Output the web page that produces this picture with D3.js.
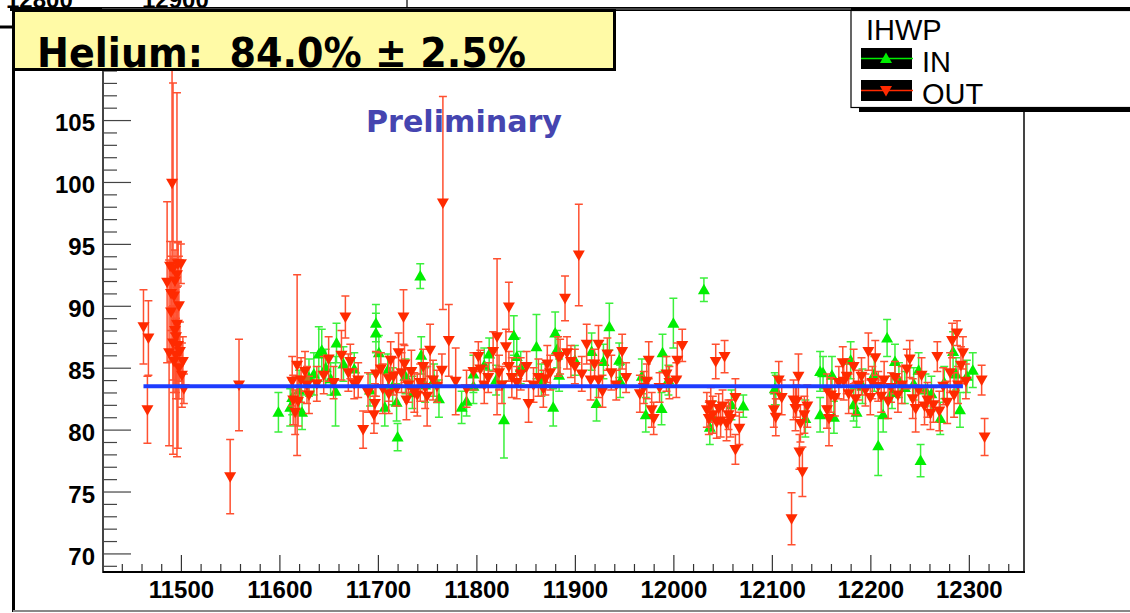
<!DOCTYPE html>
<html><head><meta charset="utf-8">
<script src="https://cdn.jsdelivr.net/npm/d3@7"></script>
<style>body{margin:0;background:#fff}svg{display:block}</style>
</head><body>
<svg id="c" width="1130" height="613"></svg>
<script>
// ---------- data ----------
const xMajorTicks = [11500,11600,11700,11800,11900,12000,12100,12200,12300];
const yMajorTicks = [70,75,80,85,90,95,100,105];
const titleText = "Helium:  84.0% \u00B1 2.5%";
const watermark = "Preliminary";
const legendTitle = "IHWP";
const seriesNames = ["IN","OUT"];
const fitValue = 83.5;
const fitRange = [11462, 12294];

const inRuns = [11599,11611,11613,11620,11623,11630,11635,11640,11643,11647,11652,11657,11658,11665,11676,11692,11698,11698,11701,11707,11710,11715,11719,11720,11728,11735,11743,11744,11748,11757,11762,11785,11790,11797,11797,11808,11813,11820,11828,11838,11841,11845,11861,11866,11878,11880,11882,11884,11900,11917,11922,11929,11935,11945,11946,11968,11972,11989,11988,11995,12000,12031,12037,12040,12059,12071,12103,12104,12134,12149,12149,12152,12161,12163,12180,12183,12186,12192,12204,12208,12213,12217,12222,12225,12229,12235,12244,12249,12251,12256,12262,12271,12275,12284,12287,12291,12298,12304];
const inValues = [81.4,81.8,82.6,83.2,81.4,84.2,84.5,86.1,86.4,85.0,84.1,83.1,87.0,85.3,84.9,83.2,88.6,87.8,86.2,81.8,84.8,83.5,82.2,79.4,84.3,83.0,92.4,86.0,83.6,84.0,82.5,81.8,82.3,83.5,84.5,85.2,86.1,84.0,80.8,87.6,85.9,85.0,86.7,84.0,81.8,87.8,86.5,84.4,85.6,86.3,82.1,85.5,88.3,85.6,83.9,84.3,81.2,86.2,81.7,84.0,88.6,91.3,80.2,81.0,82.0,81.9,83.3,83.2,80.9,84.7,81.2,84.6,84.4,81.0,85.6,82.0,81.4,83.5,84.5,78.7,81.2,87.4,83.0,85.5,84.0,83.4,83.7,84.8,77.5,83.2,82.9,80.9,83.8,86.3,84.5,81.6,84.3,84.8];
const inErrors = [1.6,1.5,1.4,1.6,1.4,1.5,1.7,2.2,1.7,1.5,1.3,2.8,1.6,1.4,1.3,1.3,1.5,1.6,1.4,1.5,1.3,1.5,1.5,1.1,1.4,1.3,1.0,1.5,1.4,1.3,1.5,1.3,1.2,1.4,1.5,1.4,1.3,1.2,3.1,1.6,1.5,1.3,2.6,1.3,1.5,1.7,1.5,1.3,1.2,1.5,1.4,1.4,1.9,1.4,1.3,1.4,1.4,1.5,1.3,1.2,2.0,0.95,1.4,1.3,1.2,0.9,1.3,1.2,1.5,1.6,1.4,1.3,1.5,1.3,1.5,1.3,1.2,1.4,1.4,2.4,1.4,1.5,1.3,1.4,1.4,1.3,1.3,1.4,1.3,1.3,1.4,1.3,1.3,1.6,1.3,1.4,1.3,1.4];

const outRuns = [11462,11467,11466,11486,11488,11489,11491,11492,11493,11494,11495,11496,11497,11497,11498,11499,11500,11501,11502,11503,11490,11495,11490,11492,11494,11496,11498,11493,11550,11559,11613,11614,11616,11618,11619,11622,11626,11628,11630,11638,11645,11650,11655,11663,11667,11670,11672,11676,11680,11685,11690,11696,11697,11698,11703,11705,11711,11711,11713,11716,11719,11721,11724,11726,11727,11729,11731,11734,11737,11740,11743,11746,11748,11750,11753,11756,11760,11765,11766,11772,11779,11790,11797,11802,11804,11808,11812,11817,11821,11823,11826,11830,11833,11833,11836,11841,11845,11851,11853,11858,11863,11868,11870,11872,11875,11883,11885,11890,11892,11896,11900,11904,11907,11912,11916,11920,11924,11924,11928,11933,11937,11942,11948,11952,11966,11970,11973,11975,11978,11980,11986,11993,11996,12003,12004,12009,12034,12036,12038,12040,12043,12044,12046,12048,12050,12052,12054,12056,12058,12063,12063,12067,12102,12104,12107,12110,12120,12122,12124,12125,12127,12128,12129,12131,12133,12136,12156,12156,12158,12160,12164,12168,12172,12173,12176,12178,12183,12185,12188,12191,12195,12198,12200,12202,12205,12208,12211,12214,12218,12221,12225,12228,12232,12237,12240,12243,12246,12249,12252,12255,12258,12261,12264,12268,12270,12274,12278,12281,12283,12285,12288,12289,12292,12294,12297,12313,12316];
const outValues = [88.3,87.4,81.6,91.9,86.2,93.2,99.9,93.0,90.8,88.0,86.0,92.5,93.4,86.8,85.0,86.3,93.4,84.4,85.5,83.3,89.5,87.5,91.0,87.0,92.0,88.5,90.0,85.5,76.2,83.6,83.9,82.4,81.4,85.2,82.3,84.0,84.7,83.6,82.8,83.7,84.4,85.7,83.8,86.0,89.1,84.6,85.5,83.7,84.0,80.0,83.0,81.2,82.1,84.5,84.9,83.3,82.9,84.1,85.6,84.3,83.3,86.2,84.6,89.1,85.3,82.4,83.6,84.7,83.0,82.8,83.8,85.1,83.4,82.7,86.4,84.0,83.5,84.8,98.3,87.2,83.9,83.3,84.7,85.9,84.9,83.6,84.2,86.3,87.5,84.6,83.6,86.7,89.9,85.1,84.2,83.8,84.5,85.1,82.1,83.6,84.2,83.3,84.1,85.3,84.6,85.9,85.9,90.6,86.2,85.5,85.1,94.1,84.5,86.9,84.0,85.3,86.9,84.0,83.1,86.1,84.6,83.6,86.3,84.2,82.9,83.4,83.9,85.6,81.6,80.9,83.4,84.5,83.8,84.0,85.6,86.8,81.6,80.9,82.0,81.2,85.5,80.6,81.7,80.7,81.9,85.9,80.5,81.2,80.9,82.6,78.4,80.1,81.6,81.0,84.0,82.6,72.8,82.4,81.7,82.3,84.3,78.2,80.5,76.6,81.2,81.9,83.2,81.6,80.9,82.8,82.6,83.8,85.4,83.9,84.3,82.9,85.1,82.5,83.6,84.3,83.2,86.3,82.6,83.8,85.8,83.5,82.7,84.0,82.3,83.4,84.2,82.8,83.6,84.9,85.7,82.5,81.7,83.2,84.4,81.9,82.4,81.3,82.0,85.9,81.5,83.5,82.2,84.6,87.2,82.8,87.8,83.6,85.2,86.2,83.9,84.0,79.4];
const outErrors = [3.0,3.0,2.7,6.5,7.5,2.0,10.0,15.0,3.0,4.5,3.0,14.7,1.8,8.3,2.5,2.4,1.6,2.6,2.0,1.2,4.0,5.0,3.0,3.0,2.5,3.0,4.0,2.5,3.0,3.7,2.0,2.0,1.8,7.3,2.0,1.8,1.6,1.5,1.5,1.4,1.5,1.8,1.3,2.0,1.7,1.5,1.4,1.2,1.4,1.5,1.6,1.5,1.6,1.8,1.3,2.0,1.6,1.8,1.5,1.5,1.4,1.6,1.6,2.2,1.5,1.6,1.4,1.7,1.6,1.7,1.5,1.4,1.7,2.4,2.1,1.6,1.3,1.3,8.6,2.9,2.7,1.5,1.5,1.2,1.5,1.5,1.2,1.6,6.3,1.4,1.5,1.4,2.0,1.2,1.6,1.3,1.3,1.2,1.5,1.4,1.5,1.5,1.3,1.5,1.4,1.6,1.4,1.8,1.3,1.3,1.4,4.1,1.4,1.6,1.6,1.2,1.5,1.4,1.3,1.3,1.4,1.2,1.4,1.2,1.5,1.3,1.4,1.5,1.4,1.3,1.2,1.4,1.3,1.4,1.4,1.3,1.4,1.3,1.4,1.5,1.4,1.3,1.2,1.3,1.3,1.3,1.4,1.2,1.5,1.5,1.2,1.3,1.4,1.5,1.5,1.4,2.1,1.6,1.8,1.3,1.8,1.4,1.5,2.0,1.5,1.7,1.3,1.5,2.2,1.4,1.5,1.3,1.3,1.5,1.4,1.6,1.4,1.3,1.2,1.5,1.3,1.5,1.4,1.3,1.4,1.2,1.3,1.5,1.4,1.2,1.3,1.4,1.5,1.6,1.5,1.6,1.9,1.3,1.4,1.5,1.4,1.3,1.4,1.2,1.6,1.5,1.7,1.6,1.4,1.8,1.0,1.5,1.5,1.3,1.4,1.2,1.5];

// ---------- layout ----------
const svg = d3.select("#c");
const pLeft = 103, pRight = 1024, pTop = 9, pBottom = 572;
const x = d3.scaleLinear().domain([11420.9, 12356]).range([pLeft, pRight]);
const y = d3.scaleLinear().domain([68.5, 113.97]).range([pBottom, pTop]);
const GREEN = "#00ee00", RED = "#ff2a00";
const tickFont = "'Liberation Sans', Arial, Helvetica, sans-serif";
const triUp = "M0,-6L6,4.5L-6,4.5Z", triDown = "M0,6L6,-4.5L-6,-4.5Z";

// background remnants of another canvas (cut off at the top, as in the original)
svg.append("g").selectAll("text").data(["12800","12900"]).join("text")
  .attr("x",(d,i)=> i===0 ? 6 : 142).attr("y",7.5)
  .attr("font-family",tickFont).attr("font-weight","bold").attr("font-size",24)
  .attr("fill","#000").text(d=>d);
svg.append("line").attr("x1",407).attr("x2",407).attr("y1",0).attr("y2",9).attr("stroke","#333").attr("stroke-width",1.5);
svg.append("line").attr("x1",10).attr("x2",1130).attr("y1",9).attr("y2",9).attr("stroke","#000").attr("stroke-width",4);
svg.append("line").attr("x1",0).attr("x2",12).attr("y1",27).attr("y2",27).attr("stroke","#000").attr("stroke-width",3);
svg.append("line").attr("x1",13.5).attr("x2",13.5).attr("y1",9).attr("y2",612).attr("stroke","#000").attr("stroke-width",3);
svg.append("line").attr("x1",13).attr("x2",1130).attr("y1",611).attr("y2",611).attr("stroke","#888").attr("stroke-width",2);

// clip for plot area
svg.append("clipPath").attr("id","plotclip").append("rect")
  .attr("x",pLeft).attr("y",pTop).attr("width",pRight-pLeft).attr("height",pBottom-pTop);

// minor ticks
const xMinor = d3.range(11440, 12356, 20).filter(v => v % 100 !== 0);
const yMinor = d3.range(69, 114, 1).filter(v => v % 5 !== 0);

svg.append("g").attr("transform",`translate(0,${pBottom})`)
  .call(d3.axisBottom(x).tickValues(xMinor).tickSize(-8).tickFormat(""))
  .call(g=>g.select(".domain").remove())
  .call(g=>g.selectAll("line").attr("stroke","#333").attr("stroke-width",1.2));
const xAxis = svg.append("g").attr("transform",`translate(0,${pBottom})`)
  .call(d3.axisBottom(x).tickValues(xMajorTicks).tickSize(-17).tickPadding(9).tickFormat(d3.format("d")));
xAxis.select(".domain").remove();
xAxis.selectAll("line").attr("stroke","#333").attr("stroke-width",1.2);
xAxis.selectAll("text").attr("font-family",tickFont).attr("font-weight","bold").attr("font-size",24).attr("fill","#000");

svg.append("g").attr("transform",`translate(${pLeft},0)`)
  .call(d3.axisLeft(y).tickValues(yMinor).tickSize(-14).tickFormat(""))
  .call(g=>g.select(".domain").remove())
  .call(g=>g.selectAll("line").attr("stroke","#444").attr("stroke-width",1.2));
const yAxis = svg.append("g").attr("transform",`translate(${pLeft},0)`)
  .call(d3.axisLeft(y).tickValues(yMajorTicks).tickSize(-28).tickPadding(8).tickFormat(d3.format("d")));
yAxis.select(".domain").remove();
yAxis.selectAll("line").attr("stroke","#444").attr("stroke-width",1.2);
yAxis.selectAll("text").attr("font-family",tickFont).attr("font-weight","bold").attr("font-size",24).attr("fill","#000").attr("dy","0.45em");

// frame
svg.append("rect").attr("x",pLeft).attr("y",pTop).attr("width",pRight-pLeft).attr("height",pBottom-pTop)
  .attr("fill","none").attr("stroke","#444").attr("stroke-width",2);
svg.append("line").attr("x1",pLeft).attr("x2",pRight+1).attr("y1",pBottom).attr("y2",pBottom).attr("stroke","#000").attr("stroke-width",2.2);

// data
const plot = svg.append("g").attr("clip-path","url(#plotclip)");
function series(runs, vals, errs, color, barColor, up){
  const pts = runs.map((r,i)=>({r, v:vals[i], e:errs[i]}));
  const g = plot.append("g");
  const eb = g.append("g").attr("stroke",barColor).attr("stroke-width",1.5).attr("fill","none");
  eb.selectAll("path").data(pts).join("path")
    .attr("d", d=>{
      const cx = x(d.r), y1 = y(d.v + d.e), y2 = y(d.v - d.e);
      return `M${cx},${y1}V${y2}M${cx-4},${y1}H${cx+4}M${cx-4},${y2}H${cx+4}`;
    });
  g.append("g").selectAll("path").data(pts).join("path")
    .attr("transform", d=>`translate(${x(d.r)},${y(d.v)})`)
    .attr("d", up ? triUp : triDown).attr("fill", color);
}
series(inRuns, inValues, inErrors, GREEN, "#3cf03c", true);
series(outRuns, outValues, outErrors, RED, "#ff5030", false);

// fit line
plot.append("line").attr("x1",x(fitRange[0])).attr("x2",x(fitRange[1]))
  .attr("y1",y(fitValue)).attr("y2",y(fitValue)).attr("stroke","#1e3cff").attr("stroke-width",4);

// Preliminary
svg.append("text").attr("x",366).attr("y",131.5)
  .attr("font-family","'Comic Sans MS','DejaVu Sans',sans-serif").attr("font-weight","bold")
  .attr("font-size",31).attr("fill","#4545b0")
  .attr("textLength",196).attr("lengthAdjust","spacingAndGlyphs").text(watermark);

// title box
svg.append("rect").attr("x",13.5).attr("y",10.5).attr("width",601).attr("height",59)
  .attr("fill","#fffaa6").attr("stroke","#000").attr("stroke-width",3);
svg.append("text").attr("x",37).attr("y",66.5).style("white-space","pre")
  .attr("font-family","'Comic Sans MS','DejaVu Sans',sans-serif").attr("font-weight","bold")
  .attr("font-size",41).attr("fill","#000")
  .attr("textLength",489).attr("lengthAdjust","spacingAndGlyphs").text(titleText);

// legend
const lg = svg.append("g");
lg.append("rect").attr("x",859).attr("y",106).attr("width",280).attr("height",6).attr("fill","#000");
lg.append("rect").attr("x",851).attr("y",10.5).attr("width",290).attr("height",97)
  .attr("fill","#fff").attr("stroke","#000").attr("stroke-width",1.2);
lg.append("line").attr("x1",851).attr("x2",1130).attr("y1",9).attr("y2",9).attr("stroke","#000").attr("stroke-width",4);
lg.append("text").attr("x",866).attr("y",39.5).attr("font-family",tickFont).attr("font-size",29).attr("fill","#000").text(legendTitle);
const entries = [{name:seriesNames[0], color:GREEN, up:true, y0:48},{name:seriesNames[1], color:RED, up:false, y0:80}];
const le = lg.selectAll("g.e").data(entries).join("g").attr("class","e");
le.append("rect").attr("x",861).attr("y",d=>d.y0).attr("width",51).attr("height",21).attr("fill","#000");
le.append("line").attr("x1",861).attr("x2",913).attr("y1",d=>d.y0+10.5).attr("y2",d=>d.y0+10.5).attr("stroke",d=>d.color).attr("stroke-width",1.5);
le.append("path").attr("transform",d=>`translate(886,${d.y0+10.5})`)
  .attr("d",d=> d.up ? triUp : triDown).attr("fill",d=>d.color);
le.append("text").attr("x",922).attr("y",d=>d.y0+24).attr("font-family",tickFont).attr("font-size",29).attr("fill","#000").text(d=>d.name);
</script>
</body></html>
